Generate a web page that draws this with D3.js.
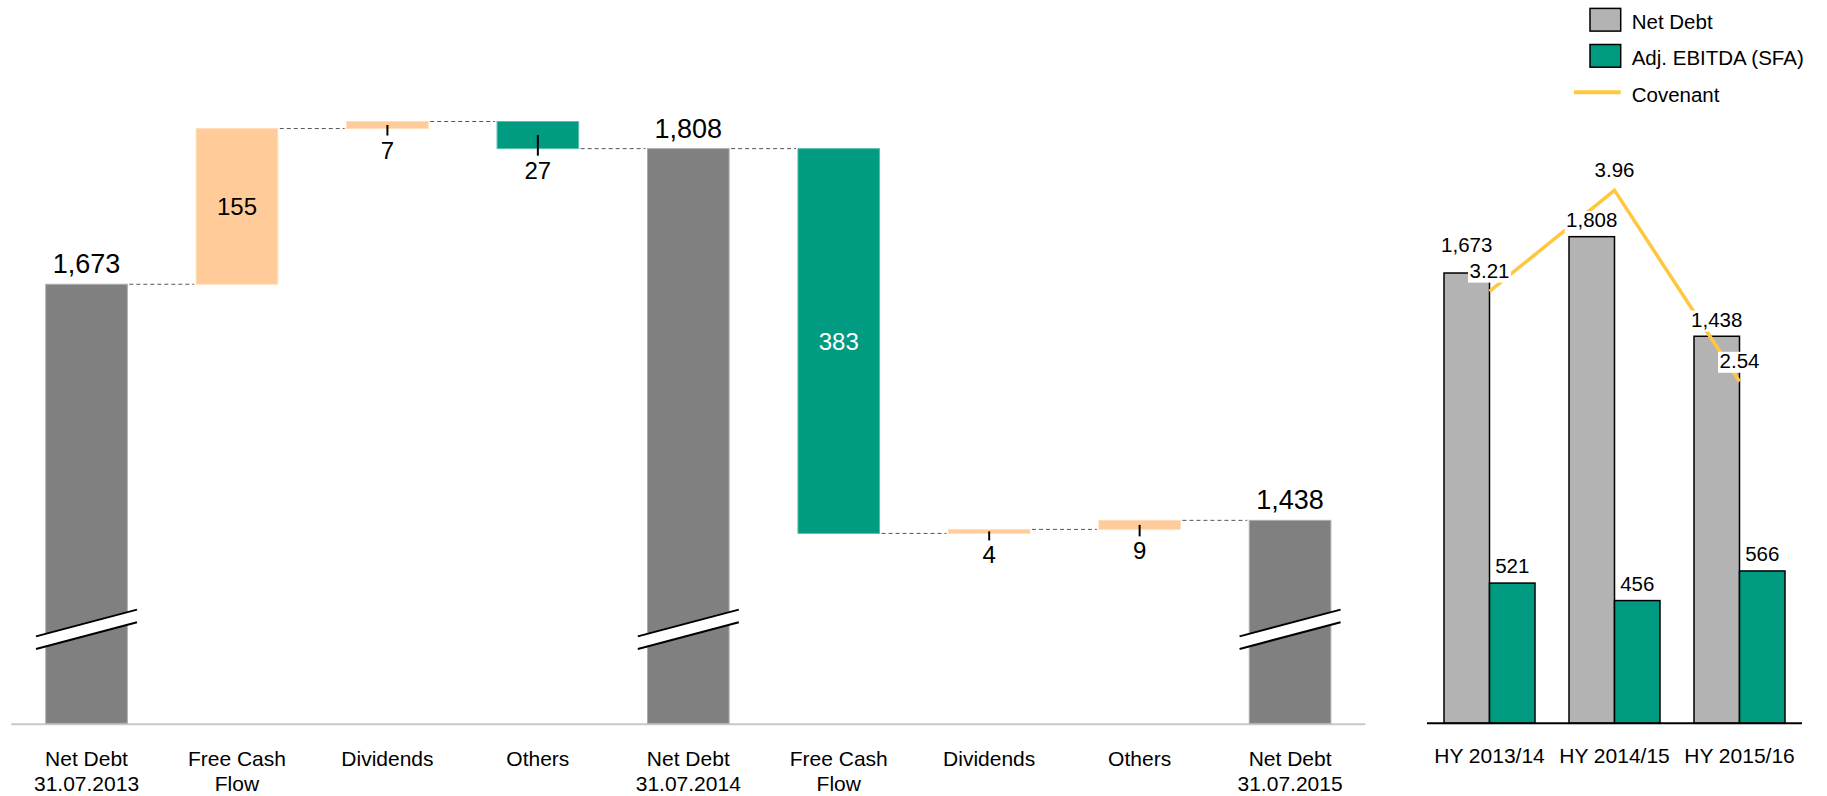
<!DOCTYPE html>
<html>
<head>
<meta charset="utf-8">
<script src="https://cdn.jsdelivr.net/npm/d3@7"></script>
<style>
  body { margin: 0; background: #fff; }
  svg { display: block; font-family: "Liberation Sans", Arial, Helvetica, sans-serif; }
</style>
</head>
<body>
<svg id="chart" width="1827" height="796"></svg>
<script>
// ---- Net debt bridge (left) ----
const bridgeLabels = [
  ["Net Debt", "31.07.2013"], ["Free Cash", "Flow"], ["Dividends"], ["Others"],
  ["Net Debt", "31.07.2014"], ["Free Cash", "Flow"], ["Dividends"], ["Others"],
  ["Net Debt", "31.07.2015"]
];
const bridgeKinds  = ["total", "delta", "delta", "delta", "total", "delta", "delta", "delta", "total"];
const bridgeValues = [1673, 155, 7, -27, 1808, -383, 4, 9, 1438];

// ---- Net debt vs. EBITDA (right) ----
const periods   = ["HY 2013/14", "HY 2014/15", "HY 2015/16"];
const netDebt   = [1673, 1808, 1438];
const adjEbitda = [521, 456, 566];
const covenant  = [3.21, 3.96, 2.54];
const legendItems = ["Net Debt", "Adj. EBITDA (SFA)", "Covenant"];

const C = {
  total: "#808080", up: "#FFCC99", down: "#009B80",
  ndGrey: "#B3B3B3", ebitda: "#009A80", cov: "#FFC740"
};
const fmtInt = d3.format(",");
const fmtCov = d3.format(".2f");

const svg = d3.select("#chart");

// ================= Bridge =================
const axisMin = 1235;
const xB = d3.scaleBand()
  .domain(d3.range(bridgeValues.length))
  .range([11.3, 1365.3])
  .paddingInner(0.4576)
  .paddingOuter(0.2288);
const yB = d3.scaleLinear().domain([axisMin, 1835]).range([724.3, 121.5]);
const bw = xB.bandwidth();

// running levels
let level = 0;
const steps = bridgeValues.map((v, i) => {
  let from, to, color;
  if (bridgeKinds[i] === "total") {
    from = axisMin; to = v; level = v; color = C.total;
  } else {
    from = level; to = level + v; level = to; color = v >= 0 ? C.up : C.down;
  }
  return { i, v, kind: bridgeKinds[i], from, to, level, color };
});

const gB = svg.append("g");

// baseline
gB.append("line")
  .attr("x1", xB.range()[0]).attr("x2", xB.range()[1])
  .attr("y1", yB(axisMin)).attr("y2", yB(axisMin))
  .attr("stroke", "#C8C8C8").attr("stroke-width", 2);

// connectors
steps.slice(0, -1).forEach((s, k) => {
  const y = yB(s.level);
  gB.append("line")
    .attr("x1", xB(k) + bw + 2).attr("x2", xB(k + 1) - 2)
    .attr("y1", y).attr("y2", y)
    .attr("stroke", "#555").attr("stroke-width", 1)
    .attr("stroke-dasharray", "4,3");
});

// bars
gB.selectAll("rect.bar").data(steps).join("rect")
  .attr("class", "bar")
  .attr("x", d => xB(d.i))
  .attr("width", bw)
  .attr("y", d => yB(Math.max(d.from, d.to)))
  .attr("height", d => Math.abs(yB(d.from) - yB(d.to)) - (d.kind === "total" ? 1 : 0))
  .attr("fill", d => d.color)
  .attr("stroke", d => d3.interpolateRgb(d.color, "#fff")(0.35))
  .attr("stroke-width", 1);

// axis breaks on the total bars
const breakY = yB(axisMin) - 95;
steps.filter(d => d.kind === "total").forEach(d => {
  const cx = xB(d.i) + bw / 2;
  const hx = 50.5, sl = 13.35, gap = 6.3;
  const up = [[cx - hx, breakY - gap + sl], [cx + hx, breakY - gap - sl]];
  const lo = [[cx - hx, breakY + gap + sl], [cx + hx, breakY + gap - sl]];
  gB.append("polygon")
    .attr("points", [up[0], up[1], lo[1], lo[0]].map(p => p.join(",")).join(" "))
    .attr("fill", "#fff");
  [up, lo].forEach(l => gB.append("line")
    .attr("x1", l[0][0]).attr("y1", l[0][1]).attr("x2", l[1][0]).attr("y2", l[1][1])
    .attr("stroke", "#000").attr("stroke-width", 2));
});

// value labels
steps.forEach(d => {
  const cx = xB(d.i) + bw / 2;
  if (d.kind === "total") {
    gB.append("text").attr("x", cx).attr("y", yB(d.to) - 11)
      .attr("text-anchor", "middle").attr("font-size", 27).attr("fill", "#000")
      .text(fmtInt(d.v));
    return;
  }
  const top = yB(Math.max(d.from, d.to)), bot = yB(Math.min(d.from, d.to));
  const label = fmtInt(Math.abs(d.v));
  if (bot - top > 40) {
    gB.append("text").attr("x", cx).attr("y", (top + bot) / 2 + 8.5)
      .attr("text-anchor", "middle").attr("font-size", 24)
      .attr("fill", d.color === C.down ? "#fff" : "#000")
      .text(label);
  } else {
    const tickEnd = bot + 7;
    gB.append("line").attr("x1", cx).attr("x2", cx)
      .attr("y1", (top + bot) / 2).attr("y2", tickEnd)
      .attr("stroke", "#000").attr("stroke-width", 2);
    gB.append("text").attr("x", cx).attr("y", tickEnd + 23)
      .attr("text-anchor", "middle").attr("font-size", 24).attr("fill", "#000")
      .text(label);
  }
});

// category labels
bridgeLabels.forEach((lines, i) => {
  const t = gB.append("text")
    .attr("x", xB(i) + bw / 2).attr("y", 766)
    .attr("text-anchor", "middle").attr("font-size", 21).attr("fill", "#000");
  lines.forEach((ln, k) => t.append("tspan")
    .attr("x", xB(i) + bw / 2).attr("dy", k === 0 ? 0 : 25).text(ln));
});

// ================= Net debt / EBITDA =================
const xG = d3.scaleBand().domain(periods).range([1427, 1802])
  .paddingInner(0.272).paddingOuter(0.136);
const xS = d3.scaleBand().domain(["nd", "eb"]).range([0, xG.bandwidth()]);
const yR = d3.scaleLinear().domain([0, 2000]).range([723.3, 185]);
const yC = d3.scaleLinear().domain([0, 4]).range([723.3, 185]);

const gR = svg.append("g");
const rows = periods.map((p, i) => ({ p, nd: netDebt[i], eb: adjEbitda[i], cov: covenant[i] }));

// bars
rows.forEach(r => {
  [["nd", r.nd, C.ndGrey], ["eb", r.eb, C.ebitda]].forEach(([k, v, col]) => {
    gR.append("rect")
      .attr("x", xG(r.p) + xS(k)).attr("width", xS.bandwidth())
      .attr("y", yR(v)).attr("height", yR(0) - yR(v))
      .attr("fill", col).attr("stroke", "#000").attr("stroke-width", 1.5);
  });
});

// axis line
gR.append("line")
  .attr("x1", xG.range()[0]).attr("x2", xG.range()[1])
  .attr("y1", yR(0)).attr("y2", yR(0))
  .attr("stroke", "#000").attr("stroke-width", 2);

// covenant line
gR.append("path")
  .datum(rows)
  .attr("d", d3.line().x(d => xG(d.p) + xG.bandwidth() / 2).y(d => yC(d.cov)))
  .attr("fill", "none").attr("stroke", C.cov).attr("stroke-width", 3.5);

// labels with white backing boxes
function boxedLabel(g, x, baseline, txt) {
  const grp = g.append("g");
  const rect = grp.append("rect").attr("fill", "#fff");
  const t = grp.append("text").attr("x", x).attr("y", baseline)
    .attr("text-anchor", "middle").attr("font-size", 20.5).attr("fill", "#000").text(txt);
  const bb = t.node().getBBox();
  rect.attr("x", bb.x - 1.5).attr("width", bb.width + 3)
    .attr("y", baseline - 16).attr("height", 21);
  return { grp, t, rect, x0: bb.x - 1.5, x1: bb.x + bb.width + 1.5, top: baseline - 16, bottom: baseline + 5 };
}
const overlaps = (a, b) => a.x0 < b.x1 && b.x0 < a.x1 && a.top < b.bottom && b.top < a.bottom;

// covenant label boxes come first so net debt labels can step around them
const covBoxes = rows.map(r => ({ r, base: yC(r.cov) - 13.7, x: xG(r.p) + xG.bandwidth() / 2 }));
const ndLayer = gR.append("g"), covLayer = gR.append("g");
const covLabels = covBoxes.map(c => boxedLabel(covLayer, c.x, c.base, fmtCov(c.r.cov)));

rows.forEach((r, i) => {
  const x = xG(r.p) + xS("nd") + xS.bandwidth() / 2;
  const lab = boxedLabel(ndLayer, x, yR(r.nd) - 9.7, fmtInt(r.nd));
  if (overlaps(lab, covLabels[i])) {
    const shift = lab.bottom - (covLabels[i].top - 4.3);
    lab.grp.attr("transform", `translate(0,${-shift})`);
  }
  const xe = xG(r.p) + xS("eb") + xS.bandwidth() / 2;
  gR.append("text").attr("x", xe).attr("y", yR(r.eb) - 9.7)
    .attr("text-anchor", "middle").attr("font-size", 20.5).attr("fill", "#000")
    .text(fmtInt(r.eb));
});

// period labels
gR.selectAll("text.period").data(periods).join("text")
  .attr("class", "period")
  .attr("x", d => xG(d) + xG.bandwidth() / 2).attr("y", 763.3)
  .attr("text-anchor", "middle").attr("font-size", 21).attr("fill", "#000")
  .text(d => d);

// legend
const lg = svg.append("g").attr("transform", "translate(1590,0)");
const legendY = [19.7, 55.8, 92.3];
legendItems.forEach((name, i) => {
  const cy = legendY[i];
  if (i < 2) {
    lg.append("rect").attr("x", 0).attr("y", cy - 11.3).attr("width", 30.7).attr("height", 22.7)
      .attr("fill", i === 0 ? C.ndGrey : C.ebitda).attr("stroke", "#000").attr("stroke-width", 1.5);
  } else {
    lg.append("line").attr("x1", -16).attr("x2", 30.7).attr("y1", cy).attr("y2", cy)
      .attr("stroke", C.cov).attr("stroke-width", 4);
  }
  lg.append("text").attr("x", 41.7).attr("y", cy + 9.5)
    .attr("font-size", 20.5).attr("fill", "#000").text(name);
});
</script>
</body>
</html>
